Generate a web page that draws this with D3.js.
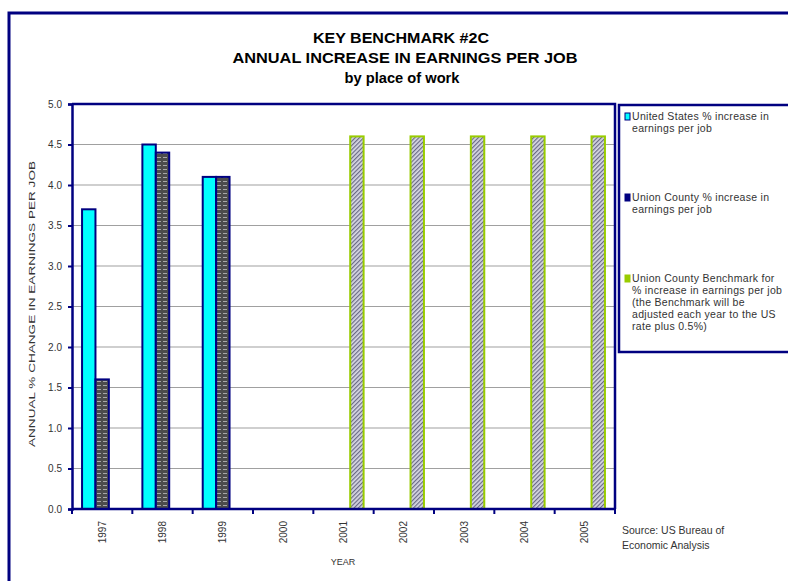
<!DOCTYPE html>
<html>
<head>
<meta charset="utf-8">
<script src="https://cdn.jsdelivr.net/npm/d3@7"></script>
<style>
  body { margin: 0; background: #fff; }
  text { font-family: "Liberation Sans", Arial, sans-serif; }
</style>
</head>
<body>
<div id="container"></div>
<script>
// values
const years = ["1997", "1998", "1999", "2000", "2001", "2002", "2003", "2004", "2005"];
const usIncrease = [3.7, 4.5, 4.1, null, null, null, null, null, null];
const unionIncrease = [1.6, 4.4, 4.1, null, null, null, null, null, null];
const unionBenchmark = [null, null, null, null, 4.6, 4.6, 4.6, 4.6, 4.6];
const yTicks = [0, 0.5, 1, 1.5, 2, 2.5, 3, 3.5, 4, 4.5, 5];

const titleLines = ["KEY BENCHMARK #2C", "ANNUAL INCREASE IN EARNINGS PER JOB", "by place of work"];
const legendItems = [
    {lines: ["United States % increase in", "earnings per job"], key: "us"},
    {lines: ["Union County % increase in", "earnings per job"], key: "union"},
    {lines: ["Union County Benchmark for", "% increase in earnings per job", "(the Benchmark will be",
             "adjusted each year to the US", "rate plus 0.5%)"], key: "bench"}
];
const sourceLines = ["Source: US Bureau of", "Economic Analysis"];

const W = 788, H = 581;
const navy = "#000080";
const plot = {left: 72, top: 104, right: 615, bottom: 509};

const svg = d3.select("div#container")
    .append("svg")
    .attr("width", W)
    .attr("height", H);

// patterns for the two hatched series
const defs = svg.append("defs");
const pBrick = defs.append("pattern")
    .attr("id", "brick")
    .attr("patternUnits", "userSpaceOnUse")
    .attr("width", 6).attr("height", 4);
pBrick.append("rect").attr("width", 6).attr("height", 4).attr("fill", "#4c4c4c");
pBrick.append("rect").attr("x", 1).attr("y", 1).attr("width", 4).attr("height", 1).attr("fill", "#a8a8a8");

const pHatch = defs.append("pattern")
    .attr("id", "hatch")
    .attr("patternUnits", "userSpaceOnUse")
    .attr("width", 3).attr("height", 3)
    .attr("patternTransform", "rotate(45)");
pHatch.append("rect").attr("width", 3).attr("height", 3).attr("fill", "#d8d8e4");
pHatch.append("rect").attr("width", 1.2).attr("height", 3).attr("fill", "#6a6a86");

// outer frame
svg.append("rect")
    .attr("x", 9).attr("y", 13)
    .attr("width", W + 10).attr("height", H + 10)
    .attr("fill", "none")
    .attr("stroke", navy)
    .attr("stroke-width", 3);

// title
svg.append("g")
    .selectAll("text")
    .data(titleLines)
    .enter()
    .append("text")
    .attr("x", (d, i) => [401, 405, 402][i])
    .attr("y", (d, i) => 43 + i * 20)
    .attr("text-anchor", "middle")
    .attr("font-family", "'Liberation Sans Narrow', 'Arial Narrow', 'Liberation Sans', sans-serif")
    .attr("font-size", 14.5)
    .attr("font-weight", "bold")
    .attr("textLength", (d, i) => [176, 345, 115][i])
    .attr("lengthAdjust", "spacingAndGlyphs")
    .text(d => d);

const x = d3.scaleBand()
    .domain(years)
    .range([plot.left, plot.right]);

const y = d3.scaleLinear()
    .domain([0, 5])
    .range([plot.bottom, plot.top]);

// gridlines
svg.append("g")
    .selectAll("line")
    .data(yTicks.slice(1, -1))
    .enter()
    .append("line")
    .attr("x1", plot.left).attr("x2", plot.right)
    .attr("y1", d => y(d)).attr("y2", d => y(d))
    .attr("stroke", "#a0a0a0")
    .attr("stroke-width", 1.2);

// bars: excel style, gap width 150%
const barW = x.bandwidth() / 4.5;
const series = [
    {values: usIncrease, fill: "#00ffff", stroke: navy},
    {values: unionIncrease, fill: "url(#brick)", stroke: navy},
    {values: unionBenchmark, fill: "url(#hatch)", stroke: "#99cc00"}
];

series.forEach((s, si) => {
    svg.append("g")
        .selectAll("rect")
        .data(years.map((yr, i) => ({year: yr, v: s.values[i]})).filter(d => d.v != null))
        .enter()
        .append("rect")
        .attr("x", d => x(d.year) + barW * 0.75 + si * barW)
        .attr("y", d => y(d.v))
        .attr("width", barW)
        .attr("height", d => y(0) - y(d.v))
        .attr("fill", s.fill)
        .attr("stroke", s.stroke)
        .attr("stroke-width", 2);
});

// plot border (top, right)
svg.append("path")
    .attr("d", `M${plot.left},${plot.top}H${plot.right}V${plot.bottom}`)
    .attr("fill", "none")
    .attr("stroke", navy)
    .attr("stroke-width", 2.5);

// y axis
const yAxis = svg.append("g")
    .attr("transform", `translate(${plot.left},0)`)
    .call(d3.axisLeft(y).tickValues(yTicks).tickFormat(d3.format(".1f")).tickSize(4).tickPadding(6));
yAxis.select(".domain").attr("stroke", navy).attr("stroke-width", 2.5);
yAxis.selectAll(".tick line").attr("stroke", navy).attr("stroke-width", 2);
yAxis.selectAll(".tick text")
    .attr("font-size", 10)
    .attr("font-family", "Liberation Sans, Arial, sans-serif")
    .attr("fill", "#333");

// x axis: ticks at category boundaries
const xAxisG = svg.append("g")
    .attr("transform", `translate(0,${plot.bottom})`);
xAxisG.append("line")
    .attr("x1", plot.left).attr("x2", plot.right)
    .attr("stroke", navy).attr("stroke-width", 2.5);
xAxisG.selectAll("line.tick")
    .data(years.concat(["end"]))
    .enter()
    .append("line")
    .attr("class", "tick")
    .attr("x1", (d, i) => plot.left + i * x.step())
    .attr("x2", (d, i) => plot.left + i * x.step())
    .attr("y1", 0).attr("y2", 5)
    .attr("stroke", navy).attr("stroke-width", 2);
xAxisG.selectAll("text")
    .data(years)
    .enter()
    .append("text")
    .attr("transform", d => `translate(${x(d) + x.bandwidth() / 2 + 3.5},12) rotate(-90)`)
    .attr("text-anchor", "end")
    .attr("font-size", 10)
    .attr("fill", "#333")
    .text(d => d);

// axis titles
svg.append("text")
    .attr("x", 343).attr("y", 565)
    .attr("text-anchor", "middle")
    .attr("font-size", 9)
    .attr("fill", "#333")
    .text("YEAR");

svg.append("text")
    .attr("transform", `translate(35,304) rotate(-90)`)
    .attr("text-anchor", "middle")
    .attr("font-size", 9.5)
    .attr("fill", "#333")
    .attr("textLength", 286)
    .attr("lengthAdjust", "spacingAndGlyphs")
    .text("ANNUAL % CHANGE IN EARNINGS PER JOB");

// legend
const legend = svg.append("g");
legend.append("rect")
    .attr("x", 619).attr("y", 105)
    .attr("width", 190).attr("height", 247)
    .attr("fill", "#fff")
    .attr("stroke", navy)
    .attr("stroke-width", 2.5);

const legendFill = {us: "#00ffff", union: navy, bench: "#99cc00"};
const legendY = [120, 201, 282];
legendItems.forEach((item, i) => {
    const g = legend.append("g").attr("transform", `translate(625,${legendY[i]})`);
    g.append("rect")
        .attr("x", 0).attr("y", -7)
        .attr("width", 5).attr("height", 7)
        .attr("fill", legendFill[item.key])
        .attr("stroke", item.key == "bench" ? "#99cc00" : navy)
        .attr("stroke-width", 1);
    g.selectAll("text")
        .data(item.lines)
        .enter()
        .append("text")
        .attr("x", 7)
        .attr("y", (d, j) => j * 12)
        .attr("font-size", 10.5)
        .attr("letter-spacing", 0.3)
        .attr("fill", "#333")
        .text(d => d);
});

// source note
svg.append("g")
    .selectAll("text")
    .data(sourceLines)
    .enter()
    .append("text")
    .attr("x", 622)
    .attr("y", (d, i) => 534 + i * 15)
    .attr("font-size", 10.5)
    .attr("fill", "#333")
    .text(d => d);
</script>
</body>
</html>
